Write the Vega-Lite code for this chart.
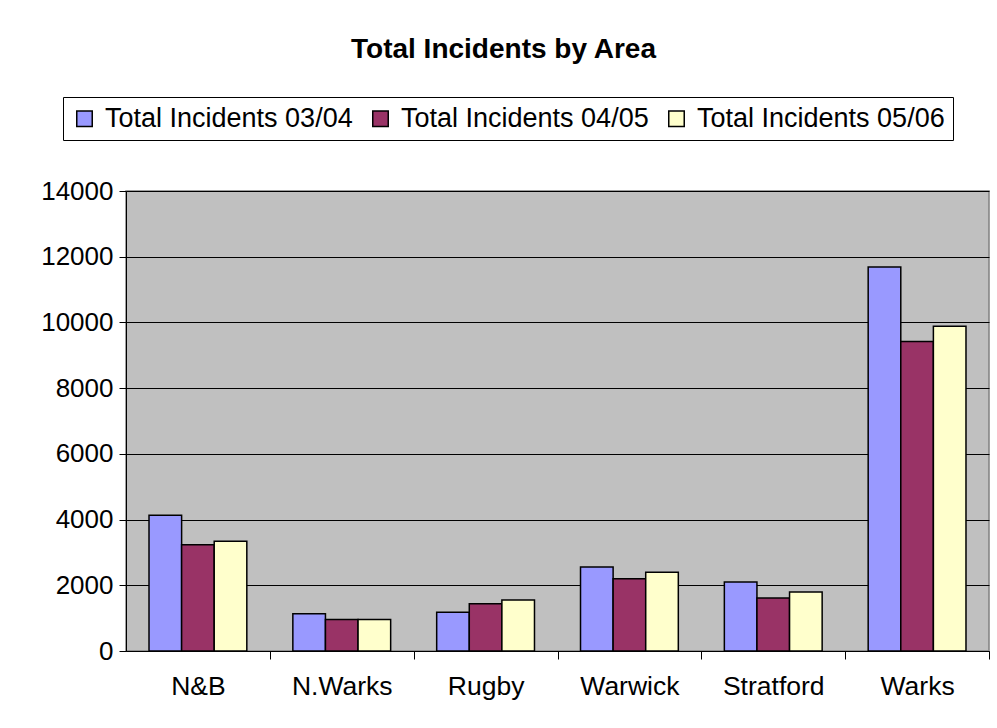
{
  "$schema": "https://vega.github.io/schema/vega-lite/v6.json",
  "width": 863,
  "height": 460,
  "autosize": "none",
  "padding": {"left": 126, "top": 191, "right": 8, "bottom": 77},
  "background": "white",
  "title": {
    "text": "Total Incidents by Area",
    "font": "Liberation Sans",
    "fontSize": 28,
    "fontWeight": "bold",
    "color": "black",
    "anchor": "middle",
    "dx": -54,
    "offset": 33
  },
  "data": {
    "values": [
      {"area": "N&B", "series": "Total Incidents 03/04", "value": 4130},
      {"area": "N&B", "series": "Total Incidents 04/05", "value": 3230},
      {"area": "N&B", "series": "Total Incidents 05/06", "value": 3340},
      {"area": "N.Warks", "series": "Total Incidents 03/04", "value": 1130},
      {"area": "N.Warks", "series": "Total Incidents 04/05", "value": 955},
      {"area": "N.Warks", "series": "Total Incidents 05/06", "value": 955},
      {"area": "Rugby", "series": "Total Incidents 03/04", "value": 1180},
      {"area": "Rugby", "series": "Total Incidents 04/05", "value": 1435},
      {"area": "Rugby", "series": "Total Incidents 05/06", "value": 1555},
      {"area": "Warwick", "series": "Total Incidents 03/04", "value": 2560},
      {"area": "Warwick", "series": "Total Incidents 04/05", "value": 2200},
      {"area": "Warwick", "series": "Total Incidents 05/06", "value": 2395},
      {"area": "Stratford", "series": "Total Incidents 03/04", "value": 2100},
      {"area": "Stratford", "series": "Total Incidents 04/05", "value": 1610},
      {"area": "Stratford", "series": "Total Incidents 05/06", "value": 1795},
      {"area": "Warks", "series": "Total Incidents 03/04", "value": 11690},
      {"area": "Warks", "series": "Total Incidents 04/05", "value": 9420},
      {"area": "Warks", "series": "Total Incidents 05/06", "value": 9880}
    ]
  },
  "mark": {"type": "bar", "stroke": "black", "strokeWidth": 1.5},
  "encoding": {
    "x": {
      "field": "area",
      "type": "nominal",
      "sort": ["N&B", "N.Warks", "Rugby", "Warwick", "Stratford", "Warks"],
      "scale": {"paddingInner": 0.32, "paddingOuter": 0.16},
      "axis": {
        "title": null,
        "labelAngle": 0,
        "tickOffset": 72,
        "labelOffset": -72,
        "labelFont": "Liberation Sans",
        "labelFontSize": 26.5,
        "labelColor": "black",
        "labelPadding": 14,
        "tickSize": 8,
        "tickColor": "black",
        "domainColor": "black",
        "grid": false
      }
    },
    "xOffset": {
      "field": "series",
      "type": "nominal",
      "scale": {"paddingInner": 0, "paddingOuter": 0}
    },
    "y": {
      "field": "value",
      "type": "quantitative",
      "scale": {"domain": [0, 14000], "nice": false},
      "axis": {
        "title": null,
        "values": [0, 2000, 4000, 6000, 8000, 10000, 12000, 14000],
        "format": "d",
        "labelFont": "Liberation Sans",
        "labelFontSize": 26,
        "labelColor": "black",
        "labelPadding": 6,
        "tickSize": 7,
        "tickColor": "black",
        "domainColor": "black",
        "gridColor": "black",
        "gridOpacity": 1,
        "gridWidth": 1
      }
    },
    "color": {
      "field": "series",
      "type": "nominal",
      "scale": {
        "domain": ["Total Incidents 03/04", "Total Incidents 04/05", "Total Incidents 05/06"],
        "range": ["#9999FF", "#993366", "#FFFFCC"]
      },
      "legend": {
        "title": null,
        "orient": "none",
        "direction": "horizontal",
        "legendX": -63,
        "legendY": -94,
        "padding": 8,
        "strokeColor": "black",
        "fillColor": "white",
        "symbolType": "square",
        "symbolSize": 240,
        "symbolStrokeColor": "black",
        "symbolStrokeWidth": 1.5,
        "symbolOpacity": 1,
        "labelFont": "Liberation Sans",
        "labelFontSize": 27,
        "labelColor": "black",
        "labelOffset": 7,
        "columnPadding": 14,
        "labelLimit": 400
      }
    }
  },
  "config": {
    "view": {"fill": "#C0C0C0", "stroke": "#808080", "strokeWidth": 1.5}
  }
}
